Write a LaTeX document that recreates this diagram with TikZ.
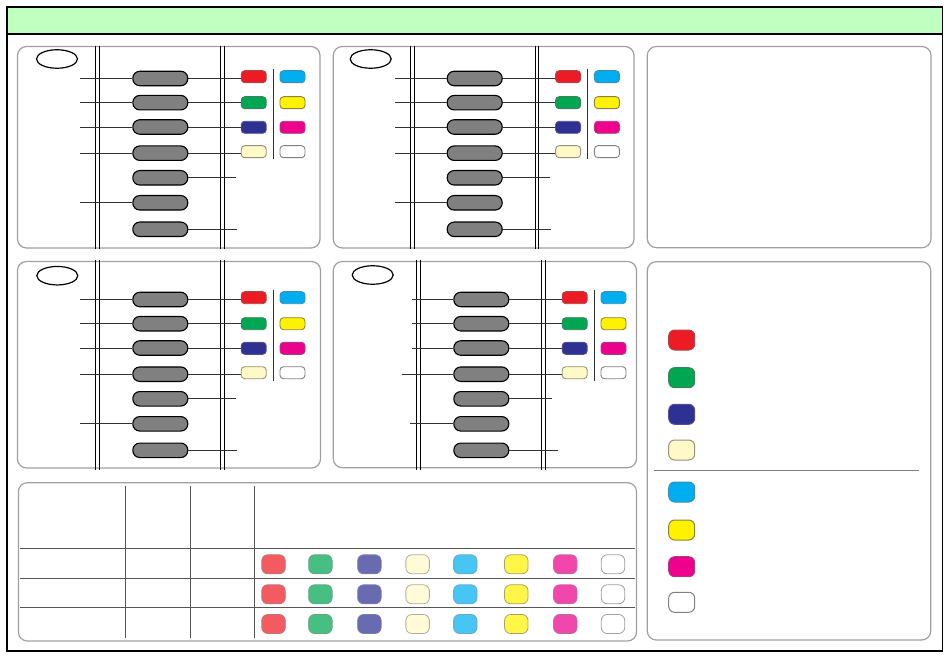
\documentclass[tikz,border=0pt]{standalone}
\usetikzlibrary{shapes.geometric}
\definecolor{hdrgreen}{RGB}{193,255,193}
\definecolor{pillgray}{RGB}{128,128,128}
\definecolor{panelc}{RGB}{160,160,160}
\definecolor{connc}{RGB}{50,50,50}
\definecolor{tablec}{RGB}{85,85,85}
\definecolor{cred}{RGB}{237,28,36}
\definecolor{cgreen}{RGB}{0,166,81}
\definecolor{cblue}{RGB}{46,49,146}
\definecolor{ccream}{RGB}{255,249,200}
\definecolor{ccyan}{RGB}{0,174,239}
\definecolor{cyellow}{RGB}{255,242,0}
\definecolor{cmagenta}{RGB}{236,0,140}
\definecolor{cwhite}{RGB}{255,255,255}
\definecolor{bred}{RGB}{170,70,75}
\definecolor{bgreen}{RGB}{60,130,90}
\definecolor{bblue}{RGB}{80,80,150}
\definecolor{bcream}{RGB}{150,145,120}
\definecolor{bcyan}{RGB}{60,140,190}
\definecolor{byellow}{RGB}{140,130,60}
\definecolor{bmagenta}{RGB}{170,60,130}
\definecolor{bwhite}{RGB}{128,128,128}
\tikzset{
  pill/.style={draw=black, line width=1.1pt, fill=pillgray, rounded corners=7pt,
    minimum width=55pt, minimum height=14.5pt, inner sep=0pt},
  sw/.style={rounded corners=3.5pt, minimum width=25pt, minimum height=12pt,
    inner sep=0pt, line width=0.9pt},
  lsw/.style={rounded corners=6pt, minimum width=26pt, minimum height=20pt,
    inner sep=0pt, line width=1pt},
  tsw/.style={rounded corners=6pt, minimum width=23.5pt, minimum height=19pt,
    inner sep=0pt, line width=0.8pt},
  conn/.style={draw=connc, line width=0.8pt},
  dline/.style={draw=black, line width=1pt},
  tline/.style={draw=tablec, line width=0.9pt},
  panelbox/.style={draw=panelc, line width=1.2pt, rounded corners=9pt},
  oval/.style={ellipse, draw=black, line width=1.2pt, minimum width=41pt,
    minimum height=18.5pt, inner sep=0pt},
}
% #1 prefix, #2 dx, #3 dy, #4 top of double lines, #5 bottom,
% #6 left start rows 1-3, #7 left start row 4, #8 left start row 6, #9 right end row 5
\newcommand\pnlcontent[9]{%
\begin{scope}[shift={(#2,#3)}]
  \foreach \k/\xx in {1/95.7,2/99.7,3/220.7,4/224.5}{
    \coordinate (#1dt\k) at (\xx,#4);
    \coordinate (#1db\k) at (\xx,#5);
    \draw[dline] (#1dt\k) -- (#1db\k);
  }
  \foreach \i/\yy in {1/78.5,2/102.7,3/127,4/153.2,5/177.8,6/202.8,7/229.3}
    \node[pill] (#1p\i) at (160.3,\yy) {};
  \foreach \i/\yy/\ca/\cb in {1/76.7/red/cyan,2/102.7/green/yellow,
      3/127.3/blue/magenta,4/151.7/cream/white}{
    \node[sw, fill=c\ca, draw=b\ca] (#1a\i) at (253.7,\yy) {};
    \node[sw, fill=c\cb, draw=b\cb] (#1b\i) at (292.5,\yy) {};
    \draw[conn] (#1p\i.east) -- (#1p\i.east -| #1a\i.west);
  }
  \coordinate (#1s1) at (273.3,69);
  \coordinate (#1s2) at (273.3,159.5);
  \draw[conn] (#1s1) -- (#1s2);
  \coordinate (#1l1) at (#6,78.5);
  \coordinate (#1l2) at (#6,102.7);
  \coordinate (#1l3) at (#6,127);
  \coordinate (#1l4) at (#7,153.2);
  \coordinate (#1l6) at (#8,202.8);
  \foreach \i in {1,2,3,4,6}
    \draw[conn] (#1l\i) -- (#1p\i.west);
  \coordinate (#1r5) at (#9,177.8);
  \coordinate (#1r7) at (236.5,229.3);
  \draw[conn] (#1p5.east) -- (#1r5);
  \draw[conn] (#1p7.east) -- (#1r7);
\end{scope}}
\begin{document}
\begin{tikzpicture}[x=1pt,y=-1pt]
\useasboundingbox (0,0) rectangle (950,660);
% outer frame and header
\draw[black, line width=1.2pt] (7,7) rectangle (942.5,651);
\draw[black, line width=1.2pt, fill=hdrgreen] (7,7) rectangle (942.5,34);
% panels
\draw[panelbox] (17.5,46.5) rectangle (320,248);
\draw[panelbox] (333.3,46.5) rectangle (634,248);
\draw[panelbox] (17.5,261.5) rectangle (320.5,468);
\draw[panelbox] (333.3,261.5) rectangle (636.5,467.7);
\draw[panelbox] (647.3,46.5) rectangle (931,247.7);
\draw[panelbox] (647.3,261.7) rectangle (930.7,640);
\draw[panelbox] (18.4,482.7) rectangle (636.5,641);
% ovals
\node[oval] (E1) at (57,59) {};
\node[oval] (E2) at (370.7,59) {};
\node[oval] (E3) at (57.3,275.7) {};
\node[oval] (E4) at (372.7,275) {};
% panel contents
\pnlcontent{A}{0}{0}{46}{249}{80}{80}{80}{236}
\pnlcontent{B}{314.4}{0}{46}{249}{80.6}{80.6}{80.6}{236}
\pnlcontent{C}{0}{221}{39}{249}{80}{80}{80}{236}
\pnlcontent{D}{321}{221}{39}{249}{91.3}{80.7}{89.3}{231.3}
% legend
\foreach \i/\yy/\c in {1/340/red,2/377.7/green,3/414.3/blue,4/450/cream,
    5/492/cyan,6/530/yellow,7/566.7/magenta,8/602.3/white}
  \node[lsw, fill=c\c, draw=b\c] (L\i) at (681.7,\yy) {};
\coordinate (LD1) at (654,470.7);
\coordinate (LD2) at (919.3,470.7);
\draw[draw=panelc!80!black, line width=1.2pt] (LD1) -- (LD2);
% table
\foreach \k/\xx in {1/125.3,2/190.2,3/254.3}{
  \coordinate (TV\k t) at (\xx,485.5);
  \coordinate (TV\k b) at (\xx,638);
  \draw[tline] (TV\k t) -- (TV\k b);
}
\foreach \k/\yy in {1/548.3,2/578.3,3/607.7}{
  \coordinate (TH\k l) at (20.4,\yy);
  \coordinate (TH\k r) at (634.7,\yy);
  \draw[tline] (TH\k l) -- (TH\k r);
}
\foreach \r/\yy in {1/564.3,2/594.3,3/624}
  \foreach \k/\xx/\c in {1/273.5/red,2/320.4/green,3/369.4/blue,4/417.6/cream,
      5/465.3/cyan,6/516.3/yellow,7/565.3/magenta,8/613/white}
    \node[tsw, fill=c\c!72!white, draw=b\c!75!white] (T\r\k) at (\xx,\yy) {};
\end{tikzpicture}
\end{document}
